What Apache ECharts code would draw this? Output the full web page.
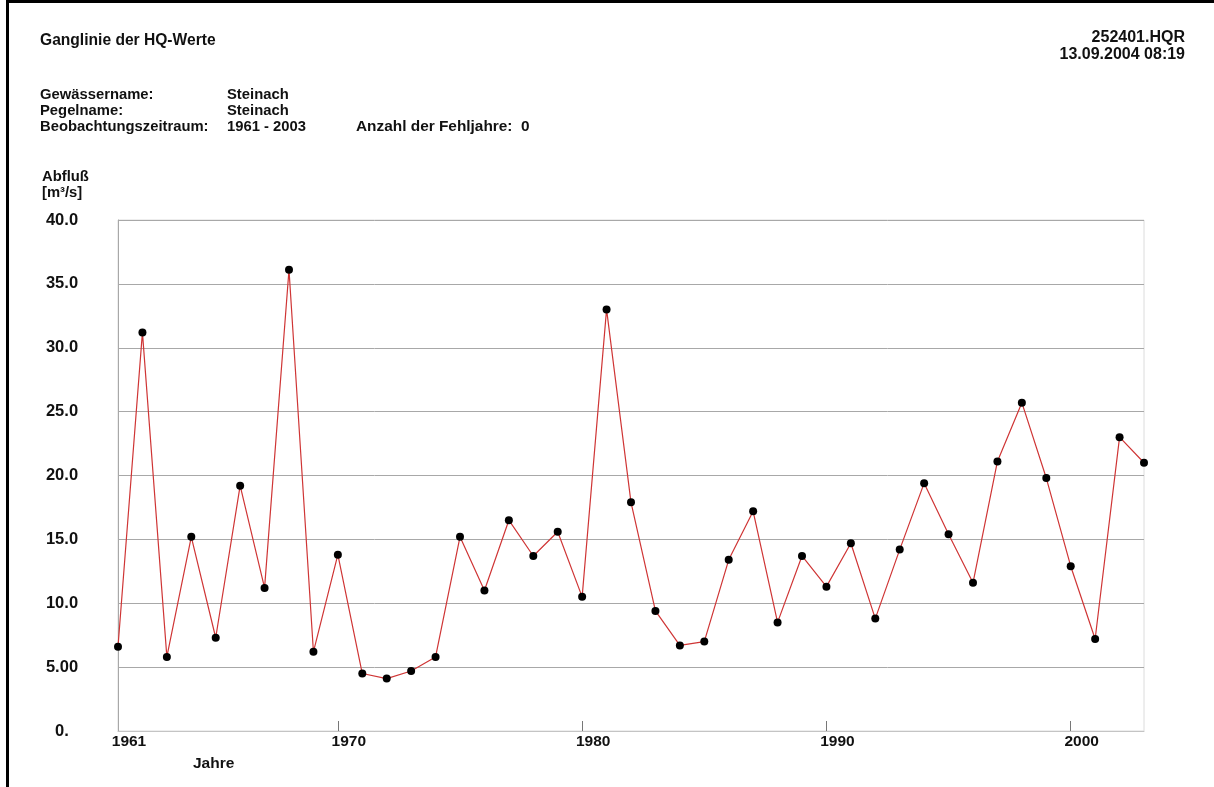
<!DOCTYPE html>
<html>
<head>
<meta charset="utf-8">
<title>Ganglinie der HQ-Werte</title>
<script src="https://cdn.jsdelivr.net/npm/echarts@6/dist/echarts.min.js"></script>
<style>
  html, body { margin: 0; padding: 0; background: #fff; }
  #chart { width: 1214px; height: 787px; }
</style>
</head>
<body>
<div id="chart"></div>
<script>
// Jährliche Hochwasserabflüsse (HQ) am Pegel Steinach, 1961–2003
const years = [];
for (let y = 1961; y <= 2003; y++) years.push(String(y));

const hqValues = [
  6.6, 31.2, 5.8, 15.2, 7.3, 19.2, 11.2, 36.1, 6.2, 13.8,
  4.5, 4.1, 4.7, 5.8, 15.2, 11.0, 16.5, 13.7, 15.6, 10.5,
  33.0, 17.9, 9.4, 6.7, 7.0, 13.4, 17.2, 8.5, 13.7, 11.3,
  14.7, 8.8, 14.2, 19.4, 15.4, 11.6, 21.1, 25.7, 19.8, 12.9,
  7.2, 23.0, 21.0
];

// Beschriftung der Abflussachse (von 0 bis 40 in 5er-Schritten)
const yTickLabels = ['0.', '5.00', '10.0', '15.0', '20.0', '25.0', '30.0', '35.0', '40.0'];
const labeledYears = ['1961', '1970', '1980', '1990', '2000'];
const tickedYears = ['1970', '1980', '1990', '2000'];

const FONT = '"Liberation Sans", Arial, Helvetica, sans-serif';
const txt = (x, y, text, size, align) => ({
  type: 'text', x: x, y: y,
  style: {
    text: text, fill: '#111', font: 'bold ' + (size || 14.8) + 'px ' + FONT,
    align: align || 'left', verticalAlign: 'middle'
  }
});

const chart = echarts.init(document.getElementById('chart'), null, { renderer: 'canvas' });

chart.setOption({
  backgroundColor: '#fff',
  animation: false,
  grid: {
    left: 118, top: 220, width: 1026, height: 511,
    show: true, borderColor: '#dcdcdc', borderWidth: 1
  },
  xAxis: {
    type: 'category',
    data: years,
    boundaryGap: false,
    axisLine: { show: true, lineStyle: { color: '#c4c4c4', width: 1 } },
    axisTick: {
      show: true, inside: true, length: 10,
      interval: (i, v) => tickedYears.includes(v),
      lineStyle: { color: '#777', width: 1 }
    },
    axisLabel: {
      interval: (i, v) => labeledYears.includes(v),
      color: '#111', fontFamily: FONT, fontWeight: 'bold', fontSize: 15.5,
      margin: 3, padding: [0, 0, 0, 22]
    },
    splitLine: { show: false }
  },
  yAxis: {
    type: 'value',
    min: 0, max: 40, interval: 5,
    axisLine: { show: true, lineStyle: { color: '#a8a8a8', width: 1 } },
    axisTick: { show: false },
    axisLabel: {
      color: '#111', fontFamily: FONT, fontWeight: 'bold', fontSize: 16.5,
      align: 'center', margin: 56,
      formatter: (v) => yTickLabels[Math.round(v / 5)]
    },
    splitLine: { show: true, lineStyle: { color: '#a8a8a8', width: 1 } }
  },
  series: [{
    type: 'line',
    data: hqValues,
    symbol: 'circle',
    symbolSize: 8,
    itemStyle: { color: '#000' },
    lineStyle: { color: '#cf3535', width: 1.2 },
    z: 3
  }],
  graphic: [
    // Blattrahmen oben und links
    { type: 'rect', shape: { x: 6, y: 0, width: 1208, height: 3 }, style: { fill: '#000' } },
    { type: 'rect', shape: { x: 6, y: 0, width: 3, height: 787 }, style: { fill: '#000' } },
    // Kopfzeilen
    txt(40, 41, 'Ganglinie der HQ-Werte', 15.6),
    txt(1185, 38, '252401.HQR', 16, 'right'),
    txt(1185, 55, '13.09.2004 08:19', 16, 'right'),
    txt(40, 95, 'Gewässername:'),
    txt(227, 95, 'Steinach'),
    txt(40, 111, 'Pegelname:'),
    txt(227, 111, 'Steinach'),
    txt(40, 127, 'Beobachtungszeitraum:'),
    txt(227, 127, '1961 - 2003'),
    txt(356, 127, 'Anzahl der Fehljahre:  0', 15.4),
    // Achsentitel
    txt(42, 177, 'Abfluß'),
    txt(42, 193, '[m³/s]'),
    txt(193, 764, 'Jahre', 15.5)
  ]
});
</script>
</body>
</html>
